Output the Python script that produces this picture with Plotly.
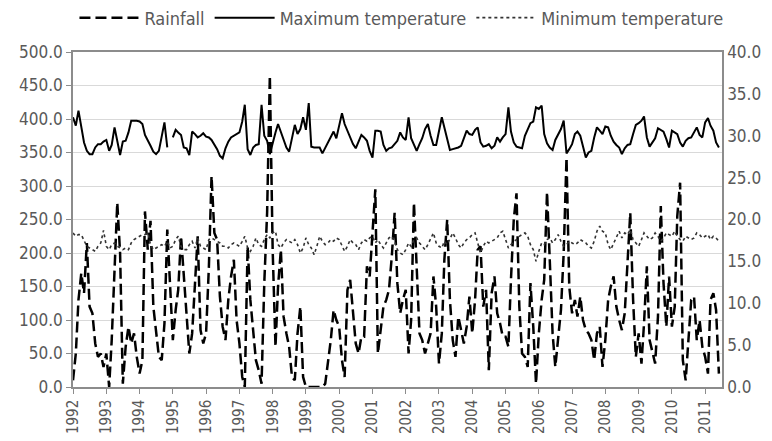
import plotly.graph_objects as go
import pandas as pd

months = pd.date_range("1992-01-01", periods=234, freq="MS")
year_ticks = [str(y) for y in range(1992, 2012)]

rainfall = [
    10, 50, 130, 170, 140, 215, 120, 110, 65, 45, 50, 30,
    50, 0, 70, 180, 275, 200, 5, 60, 90, 65, 80, 45,
    20, 40, 262, 205, 248, 120, 80, 45, 40, 95, 235, 155,
    70, 115, 145, 225, 165, 115, 50, 80, 165, 225, 85, 65,
    80, 180, 315, 230, 220, 135, 90, 70, 130, 165, 190, 100,
    65, 15, 0, 210, 130, 80, 40, 25, 5, 155, 260, 465,
    205, 60, 150, 205, 105, 80, 60, 15, 10, 80, 120, 15,
    0, 0, 0, 0, 0, 0, 0, 5, 40, 70, 115, 100,
    90, 40, 15, 145, 160, 110, 65, 50, 75, 75, 180, 165,
    230, 295, 50, 90, 120, 130, 145, 195, 260, 155, 110, 130,
    145, 50, 100, 275, 180, 80, 70, 50, 65, 80, 165, 120,
    35, 80, 190, 250, 130, 70, 45, 105, 85, 65, 90, 135,
    80, 130, 205, 210, 120, 145, 25, 140, 165, 110, 95, 75,
    75, 60, 160, 250, 289, 120, 50, 45, 30, 155, 90, 5,
    80, 130, 160, 291, 190, 80, 30, 70, 115, 200, 342, 150,
    110, 130, 105, 135, 100, 85, 80, 70, 40, 80, 90, 30,
    70, 130, 150, 165, 120, 100, 85, 110, 180, 260, 130, 45,
    80, 35, 95, 180, 70, 50, 35, 105, 270, 155, 90, 165,
    90, 120, 255, 305, 40, 10, 65, 130, 135, 70, 100, 60,
    45, 20, 130, 140, 115, 20,
]

max_temp = [
    32.2, 31.2, 33.0, 30.8, 29.2, 28.2, 27.8, 27.8, 28.6, 29.0, 29.0, 29.3,
    29.5, 28.2, 28.9, 31.0, 29.4, 27.7, 29.3, 29.4, 30.4, 31.8, 31.8, 31.8,
    31.7, 31.4, 30.1, 29.5, 28.8, 28.1, 27.8, 28.2, 29.8, 31.6, 28.6, None,
    29.8, 30.7, 30.4, 30.1, 28.6, 28.5, 27.7, 30.5, 30.2, 29.8, 30.0, 30.3,
    29.9, 29.8, 29.5, 29.0, 28.4, 27.6, 27.3, 28.5, 29.3, 29.8, 30.0, 30.1,
    30.4, 31.7, 33.7, 28.4, 27.7, 28.6, 28.9, 29.0, 33.7, 30.0, 29.4, 27.8,
    29.2, 30.4, 31.4, 30.4, 29.4, 28.6, 28.1, 29.6, 31.3, 30.2, 30.8, 32.2,
    30.7, 33.9, 28.7, 28.6, 28.6, 28.6, 27.9, 28.6, 29.3, 29.8, 30.5, 29.7,
    31.2, 32.7, 31.4, 30.6, 29.8, 29.0, 28.5, 29.3, 30.1, 29.8, 29.4, 28.2,
    27.4, 30.6, 30.6, 30.5, 28.9, 28.2, 28.5, 28.6, 29.0, 29.4, 30.4, 29.8,
    29.5, 32.2, 29.7, 29.0, 28.2, 29.0, 29.7, 30.8, 31.4, 30.0, 28.9, 28.9,
    30.4, 32.2, 31.0, 29.6, 28.3, 28.4, 28.5, 28.6, 28.8, 29.8, 30.6, 30.2,
    30.1, 30.7, 31.0, 29.2, 28.7, 28.8, 29.0, 28.5, 28.8, 29.8, 29.3, 29.8,
    30.2, 33.4, 30.5, 29.2, 28.7, 28.6, 28.5, 30.0, 30.8, 31.5, 31.7, 33.4,
    33.2, 33.6, 30.2, 29.1, 28.6, 28.3, 29.5, 30.2, 30.8, 31.8, 27.9, 28.4,
    29.0, 30.2, 30.5, 30.0, 28.8, 27.4, 28.0, 28.2, 29.8, 31.0, 30.6, 30.2,
    31.1, 31.0, 30.0, 29.3, 28.9, 28.6, 27.8, 28.5, 28.9, 29.0, 30.2, 31.3,
    31.5, 31.8, 32.3, 29.8, 28.7, 29.2, 29.7, 30.9, 30.7, 30.5, 29.6, 28.6,
    30.6, 30.4, 30.2, 29.2, 28.7, 29.4, 29.7, 29.8, 30.4, 31.0, 30.1, 29.8,
    31.6, 32.1, 31.2, 30.6, 29.2, 28.6,
]

min_temp = [
    18.4, 18.0, 18.2, 18.2, 17.5, 16.8, 16.6, 16.4, 16.2, 16.8, 17.2, 18.7,
    16.8, 16.4, 17.0, 17.2, 16.8, 16.6, 16.4, 16.6, 16.4, 17.2, 17.6, 17.8,
    18.0, 18.2, 18.2, 18.4, 17.0, 16.4, 16.6, 16.8, 17.0, 16.8, 17.4, 16.6,
    16.8, 17.6, 18.0, 16.8, 16.4, 16.4, 17.0, 17.4, 16.6, 17.8, 16.8, 16.6,
    16.4, 17.6, 17.8, 17.6, 17.4, 17.2, 16.8, 16.8, 16.6, 17.0, 17.2, 17.0,
    16.8, 17.4, 18.0, 16.6, 16.2, 16.8, 17.8, 17.0, 16.8, 17.6, 18.2, 17.8,
    18.4, 18.6, 17.0, 16.6, 17.2, 17.6, 17.4, 17.2, 17.6, 17.0, 16.0, 16.6,
    17.8, 17.0, 16.6, 15.8, 16.8, 18.0, 17.4, 17.0, 17.2, 17.6, 17.4, 17.8,
    17.6, 16.8, 16.2, 16.8, 17.6, 17.2, 17.0, 16.4, 17.2, 17.6, 17.4, 17.8,
    18.0, 17.2, 17.6, 17.0, 16.6, 17.2, 17.8, 18.0, 17.4, 16.4, 16.0, 15.8,
    16.4, 17.2, 16.8, 17.6, 17.8, 17.2, 16.8, 16.4, 17.0, 17.6, 18.4, 17.2,
    16.8, 16.6, 17.4, 17.0, 17.8, 18.4, 17.8, 17.0, 16.6, 17.2, 17.6, 17.8,
    18.2, 18.4, 17.2, 16.0, 16.8, 17.4, 17.2, 17.4, 17.6, 17.8, 18.4, 18.6,
    17.6, 16.6, 17.0, 17.4, 17.6, 18.0, 18.2, 18.4, 18.0, 17.0, 16.4, 15.0,
    16.2, 17.2, 17.0, 17.6, 17.8, 17.2, 17.6, 18.2, 17.4, 16.8, 17.0, 17.4,
    17.2, 17.0, 17.2, 17.6, 17.4, 17.2, 16.8, 16.6, 17.4, 18.6, 19.2, 18.6,
    18.4, 17.0, 16.4, 17.2, 18.0, 18.6, 17.8, 18.4, 18.2, 18.8, 17.6, 17.2,
    16.8, 17.6, 18.4, 18.0, 17.6, 17.8, 18.4, 18.0, 17.4, 17.8, 18.4, 18.2,
    18.0, 18.6, 18.0, 17.6, 17.4, 18.0, 17.8, 17.6, 17.8, 18.4, 18.2, 17.8,
    18.0, 18.2, 17.6, 18.0, 17.8, 17.4,
]

FONT = "DejaVu Sans Condensed, Liberation Sans Narrow, sans-serif"
AXIS = "#8c8c8c"
GRID = "#d9d9d9"
TXT = "#595959"

fig = go.Figure()
fig.add_trace(go.Scatter(x=months, y=rainfall, name="Rainfall", mode="lines",
                         line=dict(color="black", width=2.5, dash="11px,5px")))
fig.add_trace(go.Scatter(x=months, y=max_temp, name="Maximum temperature", mode="lines",
                         yaxis="y2", line=dict(color="black", width=2)))
fig.add_trace(go.Scatter(x=months, y=min_temp, name="Minimum temperature", mode="lines",
                         yaxis="y2", line=dict(color="#333333", width=1.6, dash="dot")))

tickvals = [pd.Timestamp(f"{y}-01-01") for y in year_ticks]

fig.update_layout(
    width=764, height=433,
    margin=dict(l=65, r=50, t=44, b=54),
    paper_bgcolor="white", plot_bgcolor="white",
    font=dict(family=FONT, color=TXT, size=16),
    showlegend=True,
    legend=dict(orientation="h", x=0.515, xanchor="center", xref="container",
                y=0.977, yanchor="middle", yref="container",
                font=dict(size=18, color=TXT), itemwidth=60,
                bgcolor="rgba(0,0,0,0)"),
    xaxis=dict(type="date", range=["1992-01-01", "2011-07-05"],
               tickvals=tickvals, ticktext=year_ticks, tickangle=-90,
               ticks="outside", ticklen=5, tickcolor=AXIS,
               showline=True, linecolor=AXIS, linewidth=1.5, mirror=True,
               showgrid=False, automargin=False, tickfont=dict(size=15, color=TXT)),
    yaxis=dict(range=[0, 500], dtick=50, tickformat=".1f",
               showline=True, linecolor=AXIS, linewidth=1.5,
               ticks="outside", ticklen=5, tickcolor=AXIS,
               gridcolor=GRID, gridwidth=1.2, zeroline=False, automargin=False,
               tickfont=dict(size=17, color=TXT)),
    yaxis2=dict(range=[0, 40], dtick=5, tickformat=".1f", overlaying="y", side="right",
                showline=True, linecolor=AXIS, linewidth=1.5,
                ticks="", showgrid=False, zeroline=False, automargin=False,
                tickfont=dict(size=17, color=TXT)),
)

fig.write_html("out.html")
